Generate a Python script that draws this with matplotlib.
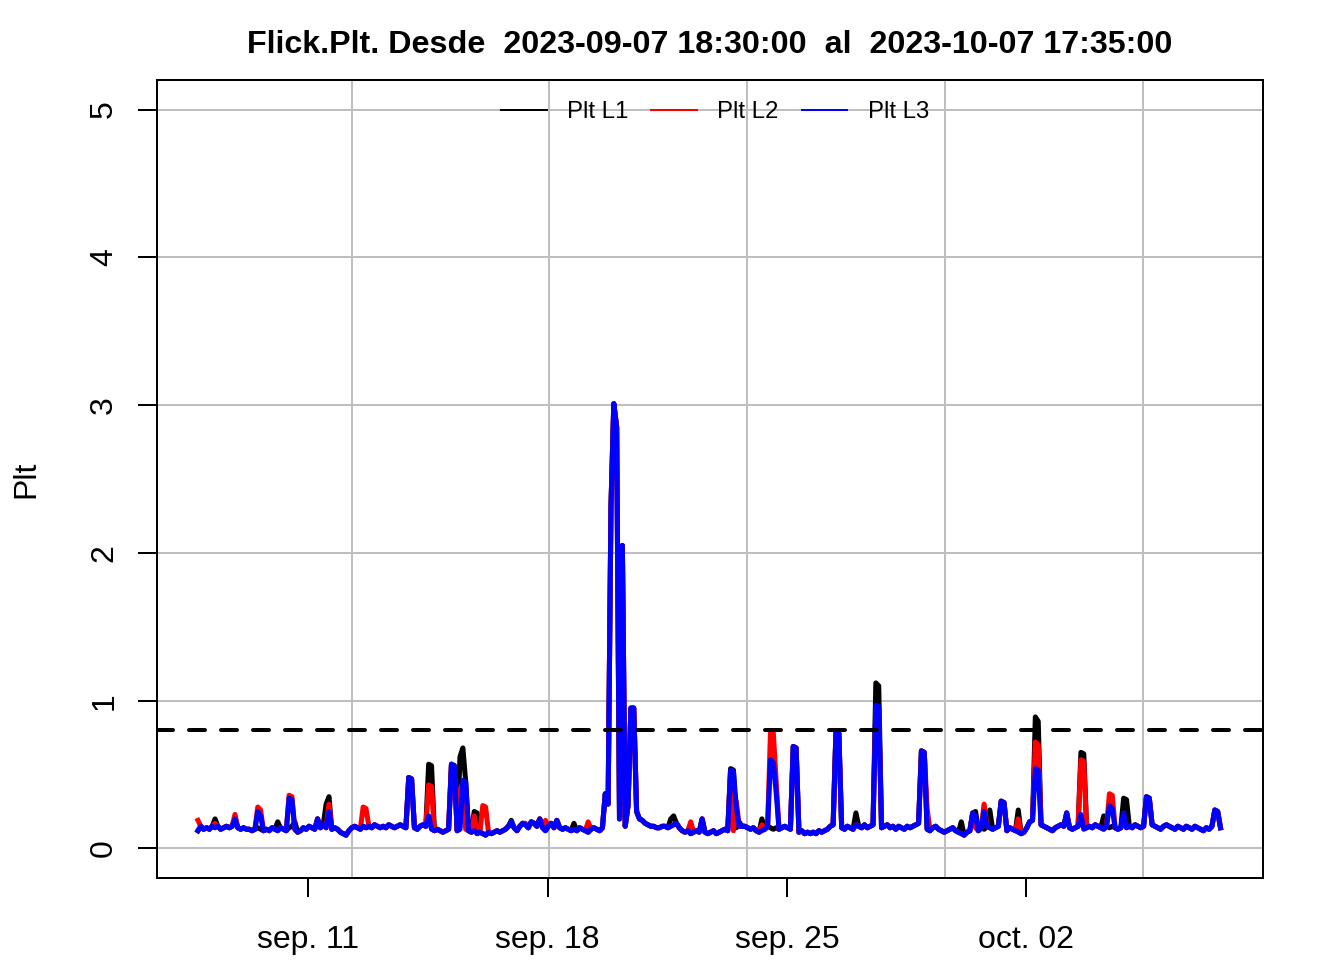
import numpy as np
import pandas as pd
import matplotlib
matplotlib.use('Agg')
from matplotlib import pyplot as plt

plt.rcParams['font.family'] = ['Liberation Sans', 'DejaVu Sans']

t_start = '2023-09-07 18:30:00'
t_end = '2023-10-07 17:35:00'
step_hours = 2  # one Plt value every 2 h

# common background level, one row per day (12 values of 2 h)
base = [
    0.12, 0.15, 0.13, 0.14, 0.13, 0.15, 0.14, 0.15, 0.13, 0.14, 0.15, 0.14,
    0.15, 0.16, 0.14, 0.13, 0.14, 0.13, 0.13, 0.12, 0.13, 0.14, 0.13, 0.12,
    0.13, 0.12, 0.14, 0.13, 0.12, 0.14, 0.13, 0.12, 0.14, 0.15, 0.13, 0.11,
    0.12, 0.14, 0.13, 0.15, 0.14, 0.13, 0.15, 0.14, 0.16, 0.14, 0.13, 0.13,
    0.14, 0.13, 0.11, 0.10, 0.09, 0.12, 0.14, 0.15, 0.14, 0.13, 0.15, 0.14,
    0.15, 0.14, 0.16, 0.15, 0.14, 0.15, 0.14, 0.16, 0.15, 0.14, 0.15, 0.16,
    0.15, 0.14, 0.13, 0.15, 0.14, 0.13, 0.15, 0.16, 0.15, 0.14, 0.13, 0.12,
    0.13, 0.12, 0.11, 0.12, 0.13, 0.12, 0.11, 0.12, 0.13, 0.12, 0.13, 0.12,
    0.11, 0.12, 0.10, 0.11, 0.10, 0.09, 0.11, 0.10, 0.11, 0.12, 0.11, 0.12,
    0.13, 0.15, 0.17, 0.14, 0.12, 0.15, 0.17, 0.16, 0.14, 0.18, 0.17, 0.15,
    0.13, 0.14, 0.12, 0.15, 0.17, 0.14, 0.13, 0.14, 0.13, 0.14, 0.13, 0.12,
    0.13, 0.12, 0.14, 0.13, 0.12, 0.11, 0.13, 0.14, 0.13, 0.12, 0.14, 0.15,
    0.15, 0.13, 0.14, 0.13, 0.14, 0.13, 0.14, 0.16, 0.15, 0.14, 0.15, 0.20,
    0.19, 0.17, 0.16, 0.15, 0.15, 0.14, 0.14, 0.15, 0.15, 0.14, 0.15, 0.16,
    0.17, 0.14, 0.12, 0.11, 0.12, 0.10, 0.11, 0.12, 0.11, 0.13, 0.11, 0.10,
    0.11, 0.12, 0.10, 0.11, 0.12, 0.13, 0.12, 0.13, 0.12, 0.14, 0.15, 0.15,
    0.15, 0.14, 0.13, 0.14, 0.12, 0.11, 0.12, 0.13, 0.15, 0.14, 0.13, 0.14,
    0.13, 0.14, 0.15, 0.14, 0.13, 0.12, 0.13, 0.11, 0.12, 0.10, 0.11, 0.10,
    0.11, 0.10, 0.12, 0.11, 0.12, 0.13, 0.15, 0.16, 0.15, 0.17, 0.14, 0.13,
    0.15, 0.14, 0.13, 0.16, 0.15, 0.14, 0.16, 0.14, 0.15, 0.16, 0.15, 0.17,
    0.14, 0.15, 0.16, 0.14, 0.15, 0.13, 0.15, 0.14, 0.13, 0.15, 0.14, 0.15,
    0.16, 0.17, 0.15, 0.14, 0.13, 0.12, 0.14, 0.15, 0.13, 0.12, 0.11, 0.12,
    0.13, 0.14, 0.12, 0.11, 0.10, 0.09, 0.11, 0.12, 0.13, 0.14, 0.12, 0.14,
    0.13, 0.15, 0.14, 0.13, 0.14, 0.15, 0.14, 0.13, 0.12, 0.14, 0.13, 0.12,
    0.11, 0.10, 0.11, 0.14, 0.18, 0.19, 0.18, 0.17, 0.16, 0.15, 0.14, 0.13,
    0.12, 0.14, 0.15, 0.16, 0.15, 0.14, 0.14, 0.13, 0.14, 0.15, 0.14, 0.13,
    0.14, 0.15, 0.14, 0.16, 0.15, 0.14, 0.13, 0.15, 0.14, 0.15, 0.14, 0.13,
    0.14, 0.13, 0.14, 0.15, 0.14, 0.16, 0.15, 0.14, 0.15, 0.14, 0.15, 0.16,
    0.15, 0.14, 0.13, 0.15, 0.16, 0.15, 0.14, 0.13, 0.15, 0.14, 0.13, 0.15,
    0.14, 0.13, 0.15, 0.14, 0.13, 0.12, 0.14, 0.13, 0.15, 0.14, 0.13, 0.14,
]

# events seen on all three phases (index of 2 h sample: value)
common = {13: 0.20, 42: 0.20, 74: 0.48, 75: 0.47, 89: 0.57, 90: 0.56,
          110: 0.18, 120: 0.20, 126: 0.19, 143: 0.37, 144: 0.30,
          145: 2.31, 146: 3.01, 147: 2.85, 148: 0.20, 149: 2.05, 150: 0.15,
          151: 0.29, 152: 0.95, 153: 0.95, 154: 0.25, 177: 0.20,
          209: 0.69, 210: 0.68, 224: 0.79, 225: 0.78, 254: 0.66, 255: 0.65,
          272: 0.24, 282: 0.32, 283: 0.31, 305: 0.24, 333: 0.35, 334: 0.34,
          357: 0.26, 358: 0.25}

l1_extra = {6: 0.20, 28: 0.18, 34: 0.18, 45: 0.30, 46: 0.35, 81: 0.57, 82: 0.56,
            92: 0.62, 93: 0.68, 94: 0.45, 97: 0.25, 98: 0.24, 110: 0.19, 132: 0.17,
            166: 0.20, 167: 0.22, 187: 0.54, 188: 0.53, 190: 0.18, 198: 0.20,
            231: 0.24, 238: 1.12, 239: 1.10, 268: 0.18, 273: 0.25, 278: 0.26,
            288: 0.26, 294: 0.89, 295: 0.86, 310: 0.65, 311: 0.64, 318: 0.22,
            325: 0.34, 326: 0.33}

l2_extra = {0: 0.19, 6: 0.17, 13: 0.23, 21: 0.28, 22: 0.26, 32: 0.36, 33: 0.35,
            46: 0.30, 58: 0.28, 59: 0.27, 81: 0.43, 82: 0.42, 92: 0.40, 93: 0.44,
            97: 0.22, 100: 0.29, 101: 0.28, 115: 0.17, 122: 0.19, 137: 0.18,
            173: 0.18, 187: 0.52, 189: 0.32, 198: 0.16, 201: 0.78, 202: 0.78,
            203: 0.46, 238: 0.95, 239: 0.94, 256: 0.27, 276: 0.30, 288: 0.20,
            294: 0.72, 295: 0.70, 310: 0.60, 311: 0.59, 320: 0.37, 321: 0.36,
            325: 0.21}

l3_extra = {21: 0.25, 22: 0.22, 32: 0.34, 33: 0.33, 46: 0.25, 81: 0.22,
            93: 0.46, 94: 0.45, 187: 0.53, 188: 0.52, 189: 0.28, 201: 0.60,
            202: 0.58, 203: 0.38, 238: 0.97, 239: 0.96, 273: 0.22, 276: 0.25,
            294: 0.54, 295: 0.53, 310: 0.23, 320: 0.29, 321: 0.27, 325: 0.24}

limit = 0.8
tick_days = ['2023-09-11', '2023-09-18', '2023-09-25', '2023-10-02']
tick_labels = ['sep. 11', 'sep. 18', 'sep. 25', 'oct. 02']


def build(extra):
    y = np.array(base, dtype=float)
    for i, v in common.items():
        y[i] = v
    for i, v in extra.items():
        y[i] = v
    return y


t0 = pd.Timestamp(t_start).timestamp()
t1 = pd.Timestamp(t_end).timestamp()
x = t0 + np.arange(len(base)) * step_hours * 3600.0

fig = plt.figure(figsize=(7, 5), dpi=192)
ax = fig.add_axes([157/1344, 82/960, 1106/1344, 798/960])

# grid like R's grid(): pretty() on raw seconds
for g in [1694500000, 1695000000, 1695500000, 1696000000, 1696500000]:
    ax.axvline(g, color='#BEBEBE', lw=0.75, zorder=0)
for g in range(6):
    ax.axhline(g, color='#BEBEBE', lw=0.75, zorder=0)

ax.plot(x, build(l1_extra), color='black', lw=1.9, label='Plt L1')
ax.plot(x, build(l2_extra), color='red', lw=1.9, label='Plt L2')
ax.plot(x, build(l3_extra), color='blue', lw=1.9, label='Plt L3')
ax.axhline(limit, color='black', lw=1.5, linestyle=(0, (4, 4)), dash_capstyle='round')

pad = (t1 - t0) * 0.04
ax.set_xlim(t0 - pad, t1 + pad)
ax.set_ylim(-0.2, 5.2)

ax.set_xticks([pd.Timestamp(d).timestamp() for d in tick_days])
ax.set_xticklabels(tick_labels)
ax.set_yticks(range(6))
ax.set_yticklabels([str(v) for v in range(6)], rotation=90, va='center')
ax.tick_params(axis='both', length=7.2, width=0.75, labelsize=12, direction='out')
ax.tick_params(axis='x', pad=10.5)
ax.tick_params(axis='y', pad=7)
for s in ax.spines.values():
    s.set_linewidth(0.75)

ax.set_ylabel('Plt', fontsize=12, labelpad=18)
ax.set_title('Flick.Plt. Desde  2023-09-07 18:30:00  al  2023-10-07 17:35:00',
             fontsize=12.1, fontweight='bold', pad=10.2)

leg = ax.legend(loc='center', bbox_to_anchor=(0.5045, 0.960), ncol=3, frameon=False,
                fontsize=9, handlelength=1.9, handletextpad=0.85, columnspacing=0.95)
for h in leg.get_lines():
    h.set_linewidth(0.75)

fig.savefig('out.png', dpi=192)
